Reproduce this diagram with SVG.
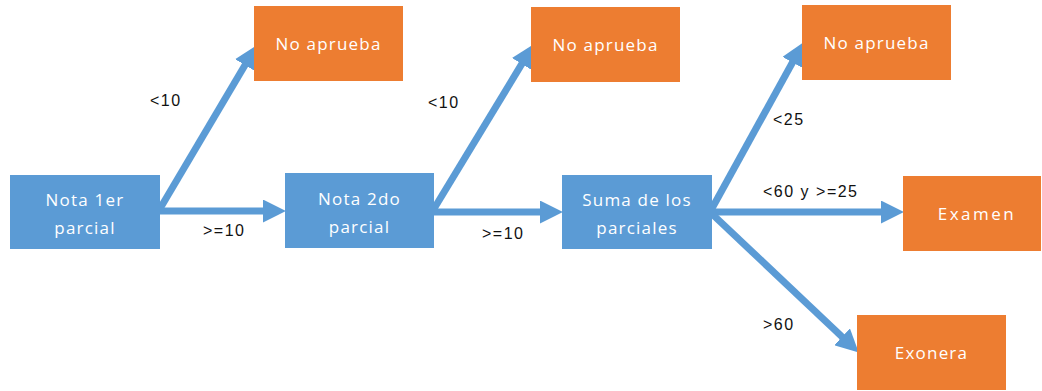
<svg xmlns="http://www.w3.org/2000/svg" width="1042" height="391" viewBox="0 0 1042 391">
<style>
.blue{fill:#5B9BD5}
.orange{fill:#ED7D31}
.nt{font-family:"Open Sans","Liberation Sans",sans-serif;font-size:17px;fill:#FFFFFF;text-anchor:middle;letter-spacing:1.2px}
.lb{font-family:"Liberation Sans",Arial,sans-serif;font-size:16px;fill:#111111;letter-spacing:1.5px}
.cn{stroke:#5B9BD5;stroke-width:7;fill:none;marker-end:url(#ah)}
</style>
<defs>
<marker id="ah" viewBox="0 0 22 22" refX="1" refY="11" markerWidth="23" markerHeight="23" markerUnits="userSpaceOnUse" orient="auto">
<path d="M0,0 L22,11 L0,22 z" fill="#5B9BD5"/>
</marker>
</defs>
<g id="connectors">
<line class="cn" x1="158" y1="212" x2="245.5" y2="64.2"/>
<line class="cn" x1="158" y1="211" x2="264" y2="211"/>
<line class="cn" x1="432" y1="212" x2="522.3" y2="63.1"/>
<line class="cn" x1="432" y1="212" x2="541" y2="212"/>
<line class="cn" x1="710" y1="212" x2="793" y2="61.5"/>
<line class="cn" x1="710" y1="212" x2="882" y2="212"/>
<line class="cn" x1="710" y1="212" x2="842.8" y2="337.5"/>
<text class="lb" x="150" y="106">&lt;10</text>
<text class="lb" x="203" y="236">&gt;=10</text>
<text class="lb" x="428" y="108">&lt;10</text>
<text class="lb" x="482" y="239">&gt;=10</text>
<text class="lb" x="773" y="125">&lt;25</text>
<text class="lb" x="763" y="197">&lt;60 y &gt;=25</text>
<text class="lb" x="763" y="330">&gt;60</text>
</g>
<g id="n1"><rect class="blue" x="10" y="175" width="150" height="74"/><text class="nt" x="85" y="206">Nota 1er</text><text class="nt" x="85" y="234">parcial</text></g>
<g id="n2"><rect class="blue" x="285" y="173" width="149" height="75"/><text class="nt" x="359.5" y="205">Nota 2do</text><text class="nt" x="359.5" y="233">parcial</text></g>
<g id="n3"><rect class="blue" x="562" y="175" width="150" height="74"/><text class="nt" x="637" y="206">Suma de los</text><text class="nt" x="637" y="234">parciales</text></g>
<g id="na1"><rect class="orange" x="254" y="6" width="149" height="75"/><text class="nt" x="328.5" y="50">No aprueba</text></g>
<g id="na2"><rect class="orange" x="531" y="7" width="149" height="75"/><text class="nt" x="605.5" y="51">No aprueba</text></g>
<g id="na3"><rect class="orange" x="802" y="5" width="149" height="75"/><text class="nt" x="876.5" y="49">No aprueba</text></g>
<g id="ex"><rect class="orange" x="903" y="176" width="138" height="75"/><text class="nt" x="977" y="220" style="letter-spacing:2.5px">Examen</text></g>
<g id="exo"><rect class="orange" x="857" y="315" width="149" height="75"/><text class="nt" x="931.5" y="359">Exonera</text></g>
</svg>
